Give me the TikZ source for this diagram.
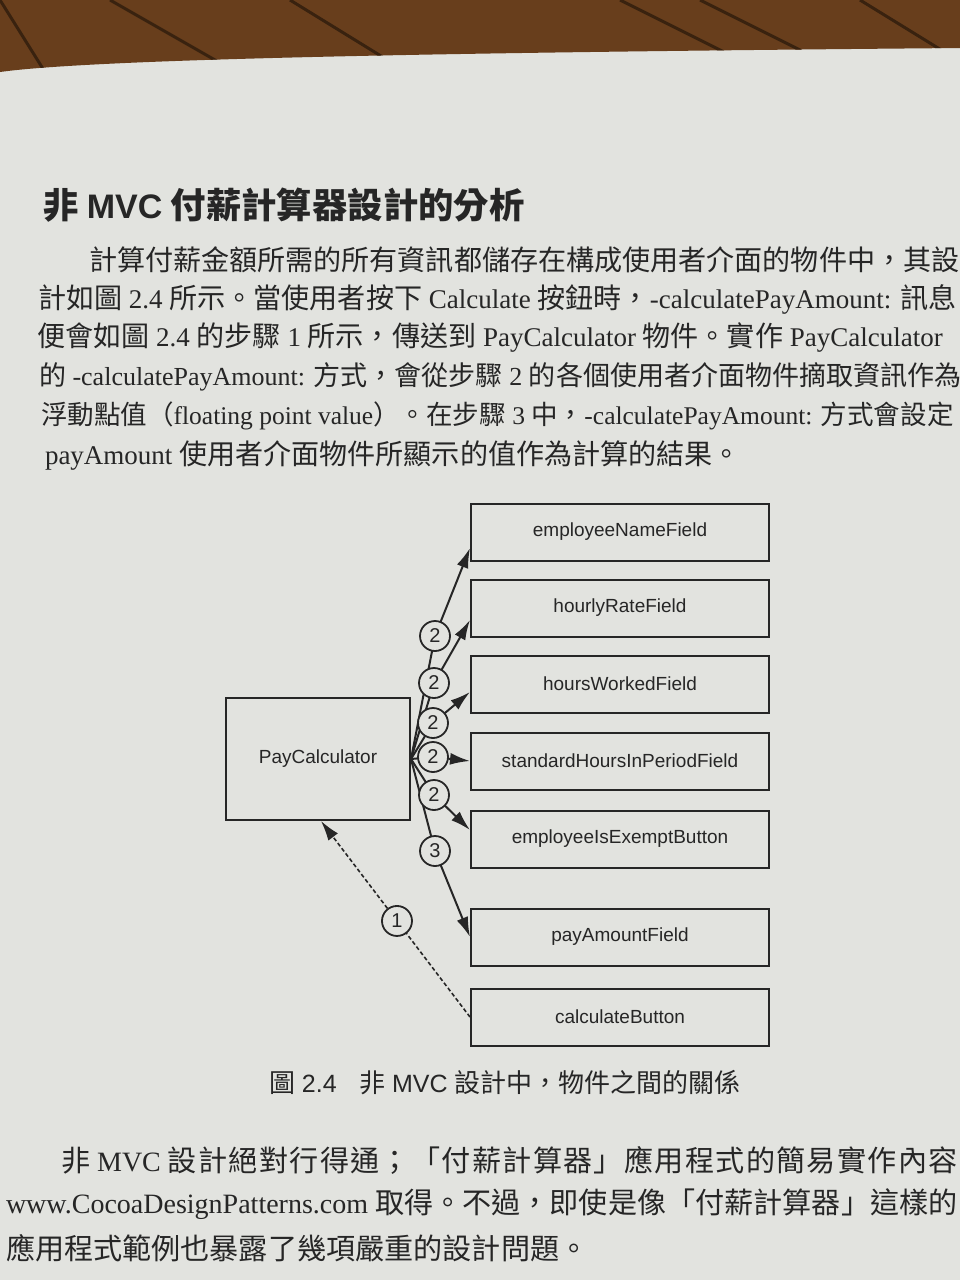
\documentclass[tikz,border=0pt]{standalone}
\usepackage{fontspec}
\setmainfont{Liberation Serif}
\setsansfont{Liberation Sans}
\newfontfamily\cjkfont[Scale=1.04]{Noto Sans CJK TC}
\newcommand\zh[1]{{\cjkfont #1}}
\newcommand\zhwide[1]{{\cjkfont\addfontfeature{LetterSpace=4.5}#1}}
\usetikzlibrary{arrows.meta, positioning, calc}
\definecolor{paper}{RGB}{226,227,223}
\definecolor{wood}{RGB}{104,62,28}
\definecolor{ink}{RGB}{38,38,38}
\tikzset{
         fieldbox/.style={draw=ink, line width=2pt, minimum width=298pt, minimum height=57pt, inner sep=0pt, text=ink, font=\sffamily\fontsize{19}{19}\selectfont},
         calcbox/.style={draw=ink, line width=2pt, minimum width=184pt, minimum height=122pt, inner sep=0pt, text=ink, font=\sffamily\fontsize{19}{19}\selectfont},
         stepcirc/.style={circle, draw=ink, fill=paper, line width=1.8pt, minimum size=30pt, inner sep=0pt, text=ink, font=\sffamily\fontsize{20}{20}\selectfont},
         bodyline/.style={anchor=west, inner sep=0pt, text=ink, font=\fontsize{27}{27}\selectfont},
         tightline/.style={bodyline, font=\fontsize{26}{26}\selectfont},
         lowline/.style={anchor=west, inner sep=0pt, text=ink, font=\fontsize{28}{28}\selectfont}
      }

\begin{document}
\begin{tikzpicture}[x=1pt, y=-1pt, line width=2pt, draw=ink,
              >={Latex[length=20pt, width=12pt]}]
               \useasboundingbox (0,0) rectangle (960,1280);
               \clip (0,0) rectangle (960,1280);
               \fill[paper] (0,0) rectangle (960,1280);
               \fill[wood] (0,0) -- (960,0) -- (960,48) .. controls (500,52) and (100,58) .. (0,72) -- cycle;
               \begin{scope}
                 \clip (0,0) -- (960,0) -- (960,48) .. controls (500,52) and (100,58) .. (0,72) -- cycle;
                 \foreach \sx/\ex in {0/50, 110/250, 290/420, 620/780, 700/860, 860/990}
                   \draw[wood!55!black, line width=3pt] (\sx,0) -- (\ex,80);
               \end{scope}

               \node[anchor=west, inner sep=0pt, text=ink, font=\fontsize{34}{34}\selectfont\bfseries] (title) at (42,205)
                 {\zh{非} {\sffamily MVC} \zh{付薪計算器設計的分析}};

               \node[bodyline] (l1) at (88,260) {\zh{計算付薪金額所需的所有資訊都儲存在構成使用者介面的物件中，其設}};
               \node[bodyline] (l2) at (37,299) {\zh{計如圖} 2.4 \zh{所示。當使用者按下} Calculate \zh{按鈕時，}-calculatePayAmount: \zh{訊息}};
               \node[bodyline] (l3) at (36,338) {\zh{便會如圖} 2.4 \zh{的步驟} 1 \zh{所示，傳送到} PayCalculator \zh{物件。實作} PayCalculator};
               \node[tightline] (l4) at (38,377) {\zh{的} -calculatePayAmount: \zh{方式，會從步驟} 2 \zh{的各個使用者介面物件摘取資訊作為}};
               \node[tightline, font=\fontsize{25.5}{25.5}\selectfont] (l5) at (40,416) {\zh{浮動點值（}floating point value\zh{）。在步驟} 3 \zh{中，}-calculatePayAmount: \zh{方式會設定}};
               \node[bodyline] (l6) at (44,456) {payAmount \zh{使用者介面物件所顯示的值作為計算的結果。}};

               \node[calcbox] (pay) at (318,759) {PayCalculator};
               \node[fieldbox] (name) at (620,532) {employeeNameField};
               \node[fieldbox, below=17pt of name] (rate) {hourlyRateField};
               \node[fieldbox, below=17pt of rate] (worked) {hoursWorkedField};
               \node[fieldbox, below=18pt of worked] (standard) {standardHoursInPeriodField};
               \node[fieldbox, below=19pt of standard] (exempt) {employeeIsExemptButton};
               \node[fieldbox, below=39pt of exempt] (amount) {payAmountField};
               \node[fieldbox, below=21pt of amount] (button) {calculateButton};

               \coordinate (k1) at (435,636);
               \coordinate (k2) at (434,683);
               \coordinate (k3) at (433,723);
               \coordinate (k4) at (433,757);
               \coordinate (k5) at (434,795);
               \coordinate (k6) at (435,851);
               \draw[->] (pay.east) -- (k1) -- ($(name.west)+(0,16)$);
               \draw[->] (pay.east) -- (k2) -- ($(rate.west)+(0,12)$);
               \draw[->] (pay.east) -- (k3) -- ($(worked.west)+(0,8)$);
               \draw[->] (pay.east) -- (k4) -- (standard.west);
               \draw[->] (pay.east) -- (k5) -- ($(exempt.west)+(0,-9)$);
               \draw[->] (pay.east) -- (k6) -- (amount.west);
               \draw[->, dash pattern=on 4pt off 2.5pt, line width=1.6pt] (button.west) -- coordinate[pos=.49] (k7) ($(pay.south)+(3,0)$);

               \foreach \k/\n in {1/2, 2/2, 3/2, 4/2, 5/2, 6/3, 7/1}
                 \node[stepcirc] (s\k) at (k\k) {\n};

               \node[anchor=west, inner sep=0pt, text=ink, font=\sffamily\fontsize{25}{25}\selectfont] (caption) at (268,1083)
                 {\zh{圖} 2.4\hspace{0.9em}\zh{非} MVC \zh{設計中，物件之間的關係}};

               \node[lowline] (b1) at (60,1160) {\zhwide{非} MVC \zhwide{設計絕對行得通；「付薪計算器」應用程式的簡易實作內容}};
               \node[lowline] (b2) at (5,1204) {www.CocoaDesignPatterns.com \zh{取得。不過，即使是像「付薪計算器」這樣的}};
               \node[lowline] (b3) at (5,1248) {\zh{應用程式範例也暴露了幾項嚴重的設計問題。}};
\end{tikzpicture}
\end{document}
